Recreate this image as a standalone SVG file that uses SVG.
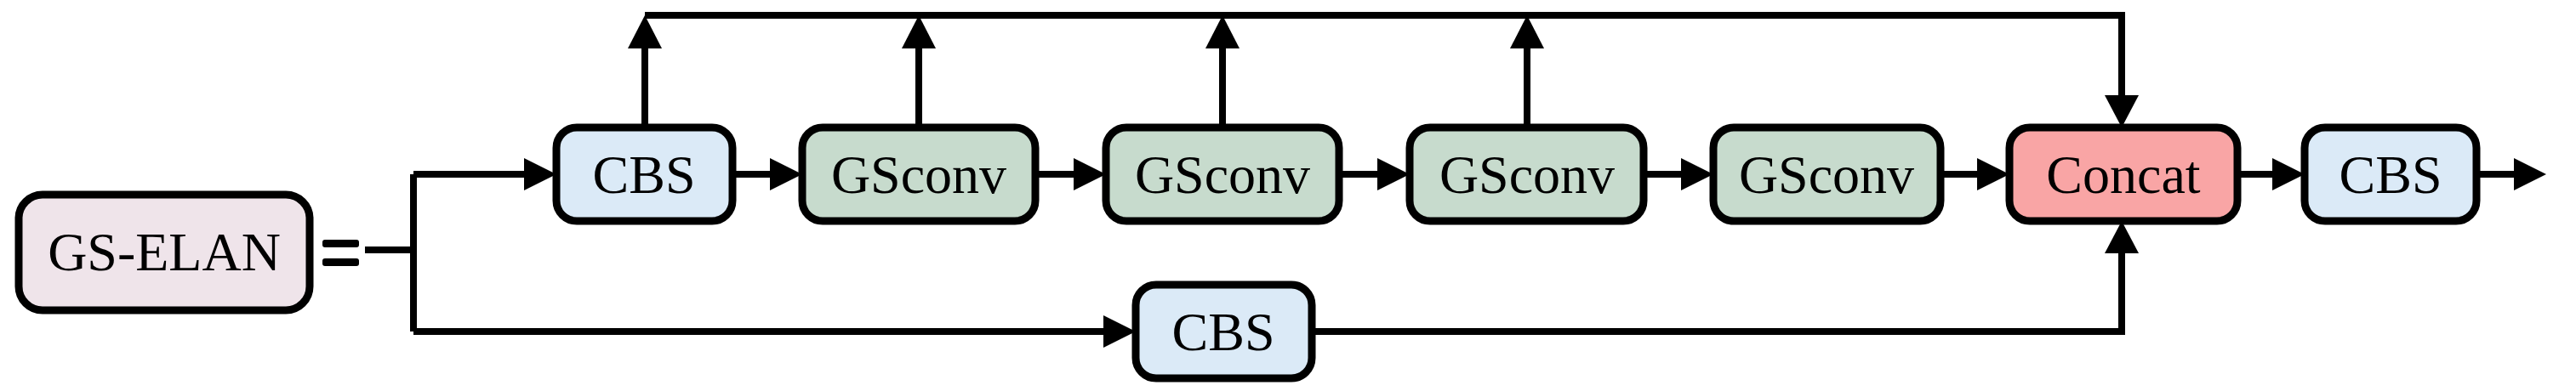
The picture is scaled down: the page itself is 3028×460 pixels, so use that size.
<svg xmlns="http://www.w3.org/2000/svg" width="3028" height="460" viewBox="0 0 3028 460">
<style>
.b{stroke:#000;stroke-width:9}
.t{font-family:"Liberation Serif","Times New Roman",serif;font-size:64px;text-anchor:middle;fill:#000}
.c{fill:none;stroke:#000;stroke-width:8}
.cbs{fill:#dbeaf7}.gs{fill:#c7dbcd}.cat{fill:#f9a5a5}.el{fill:#efe4ea}
</style>
<rect width="3028" height="460" fill="#fff"/>
<g id="connectors">
<path class="c" d="M429 294H486M486 205V390M486 205H616M861 205H905M1217 205H1262M1574 205H1619M1932 205H1976M2281 205H2324M2630 205H2671M2911 205H2955"/>
<path class="c" d="M486 390H1297M1542 390H2494V298"/>
<path class="c" d="M758 150V57M1080 150V57M1437 150V57M1795 150V57M758 18H2494V112"/>
<g fill="#000">
<polygon points="616,186 654,205 616,224"/>
<polygon points="905,186 943,205 905,224"/>
<polygon points="1262,186 1300,205 1262,224"/>
<polygon points="1619,186 1657,205 1619,224"/>
<polygon points="1976,186 2014,205 1976,224"/>
<polygon points="2324,186 2362,205 2324,224"/>
<polygon points="2671,186 2709,205 2671,224"/>
<polygon points="2955,186 2993,205 2955,224"/>
<polygon points="1297,371 1335,390 1297,409"/>
<polygon points="738,57 758,18 778,57"/>
<polygon points="1060,57 1080,18 1100,57"/>
<polygon points="1417,57 1437,18 1457,57"/>
<polygon points="1775,57 1795,18 1815,57"/>
<polygon points="2474,112 2494,150 2514,112"/>
<polygon points="2474,298 2494,260 2514,298"/>
<rect x="379" y="282" width="43" height="9" rx="3"/>
<rect x="379" y="304" width="43" height="9" rx="3"/>
</g>
</g>
<g id="gselan"><rect class="b el" x="22" y="229" width="342" height="136" rx="28"/><text class="t" x="193" y="318">GS-ELAN</text></g>
<g id="cbs1"><rect class="b cbs" x="654" y="150" width="207" height="110" rx="24"/><text class="t" x="757" y="227">CBS</text></g>
<g id="gsconv1"><rect class="b gs" x="943" y="150" width="274" height="110" rx="24"/><text class="t" x="1080" y="227">GSconv</text></g>
<g id="gsconv2"><rect class="b gs" x="1300" y="150" width="274" height="110" rx="24"/><text class="t" x="1437" y="227">GSconv</text></g>
<g id="gsconv3"><rect class="b gs" x="1657" y="150" width="275" height="110" rx="24"/><text class="t" x="1795" y="227">GSconv</text></g>
<g id="gsconv4"><rect class="b gs" x="2014" y="150" width="267" height="110" rx="24"/><text class="t" x="2147" y="227">GSconv</text></g>
<g id="concat"><rect class="b cat" x="2362" y="150" width="268" height="110" rx="24"/><text class="t" x="2496" y="227">Concat</text></g>
<g id="cbs3"><rect class="b cbs" x="2709" y="150" width="202" height="110" rx="24"/><text class="t" x="2810" y="227">CBS</text></g>
<g id="cbs2"><rect class="b cbs" x="1335" y="335" width="207" height="110" rx="24"/><text class="t" x="1438" y="412">CBS</text></g>
</svg>
